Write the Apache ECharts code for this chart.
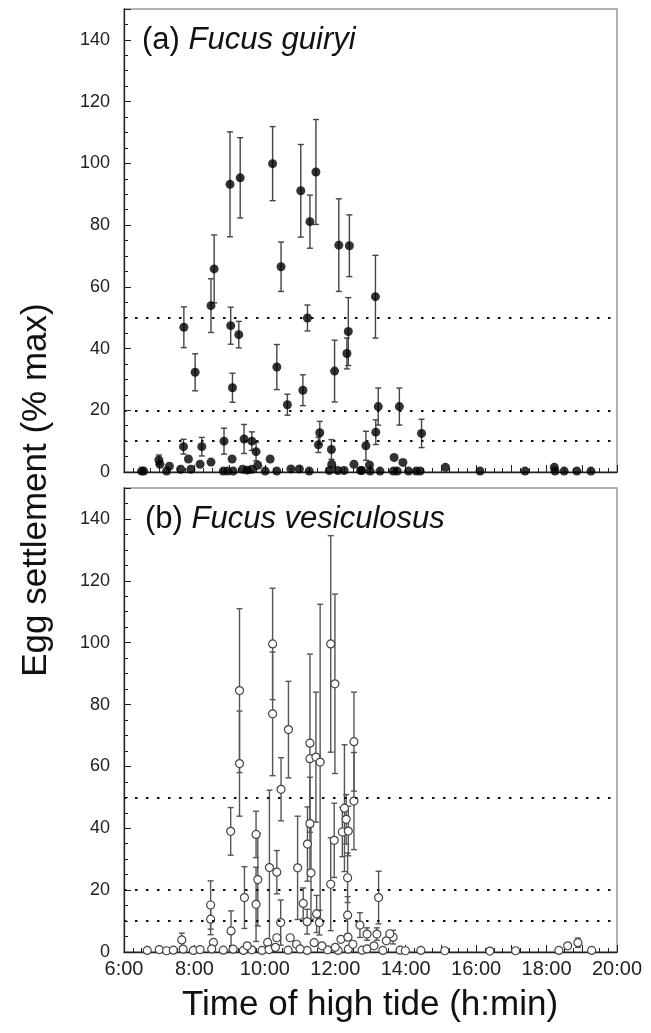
<!DOCTYPE html>
<html><head><meta charset="utf-8">
<script src="https://cdn.jsdelivr.net/npm/echarts@6/dist/echarts.min.js"></script>
<style>html,body{margin:0;padding:0;background:#fff}#c{width:651px;height:1033px}</style>
</head><body><div id="c"></div>
<script>
// Panel (a) Fucus guiryi — time of high tide (decimal hours), settlement (% max), error (±)
var aTime = [9.01,9.30,10.22,11.02,11.28,11.45,12.10,12.40,8.56,8.47,7.70,8.02,9.03,9.26,9.08,10.46,10.34,10.64,11.21,11.08,11.98,12.37,12.33,13.14,13.22,13.15,12.87,13.82,14.45,
  7.69,8.21,8.84,9.41,9.63,9.75,9.07,6.99,7.02,6.56,6.50,7.21,7.29,7.61,7.83,7.90,8.16,8.47,8.82,8.94,9.10,9.37,9.50,9.63,9.80,10.01,10.15,10.34,10.74,10.98,11.26,11.52,11.56,11.89,11.90,11.83,12.07,12.25,12.53,12.72,12.75,12.97,12.99,13.27,13.67,13.92,13.65,13.76,14.08,14.30,14.41,15.13,16.11,17.39,18.22,18.24,18.50,18.86,19.26];
var aValue = [93.2,95.3,99.9,91.1,81.1,97.2,73.5,73.3,65.8,53.9,46.9,32.3,47.4,44.5,27.3,66.5,34.0,21.8,49.9,26.5,32.7,45.5,38.4,56.8,21.2,12.9,8.5,21.2,12.5,
  8.2,8.2,10.0,10.7,10.0,6.6,4.2,3.9,2.5,0.3,0.3,0.3,1.9,0.9,4.2,0.9,2.5,3.2,0.3,0.3,0.3,0.9,0.6,0.9,2.2,0.3,4.2,0.3,1.0,1.0,0.3,8.8,12.7,7.3,2.5,0.5,0.5,0.5,2.5,0.5,0.5,2.3,0.3,0.3,4.7,3.1,0.3,0.3,0.3,0.3,0.3,1.5,0.3,0.3,1.5,0.3,0.3,0.3,0.3];
var aError = [17,13,12,15,8.6,17,15,10,11,8.7,6.6,6,6,4.3,4.7,8,7.3,3.4,4.2,5,10,11,5,13.4,6,4,4.7,6,4.6,
  2.4,3,4.2,4.7,3,3,0,1.6,0,0,0,0,0,0,0,0,0,0,0,0,0,0,0,0,0,0,0,0,0,0,0,2.5,3.7,3.2,0,0,0,0,0,0,0,0,0,0,0,0,0,0,0,0,0,0,0,0,0,0,0,0,0];

// Panel (b) Fucus vesiculosus
var bTime = [9.28,9.28,9.03,9.75,9.80,9.75,10.22,10.22,10.13,10.34,10.46,10.67,11.28,11.28,11.45,11.57,11.87,11.99,11.28,11.21,10.93,11.31,11.97,11.87,12.53,12.53,12.26,12.31,12.20,12.37,12.35,12.35,13.23,11.09,11.47,12.70,12.90,13.18,10.72,11.20,11.55,12.16,8.46,8.46,8.54,9.04,9.42,10.45,7.64,10.34,10.08,13.64,13.45,13.55,12.36,
  6.66,7.00,7.21,7.40,7.68,7.97,8.16,8.49,8.82,9.10,9.39,9.63,9.92,10.12,10.66,11.20,11.78,12.08,12.37,12.76,13.35,13.84,13.99,14.43,15.11,16.39,17.12,18.35,18.60,18.89,19.28,
  9.50,10.30,10.90,11.00,11.40,11.62,12.00,12.50,12.90,13.10];
var bValue = [84.5,60.9,39.0,38.0,23.4,15.4,99.6,77.0,27.3,25.8,52.6,71.9,67.5,62.5,63.0,61.4,99.6,86.7,41.5,34.9,27.2,25.6,36.1,21.9,68.0,48.8,46.5,42.9,38.8,39.1,24.0,11.9,17.6,15.7,12.3,8.7,5.8,5.8,4.6,9.8,9.5,4.1,15.2,10.6,3.1,6.8,17.6,9.5,3.9,4.6,3.1,4.8,3.6,5.9,4.8,
  0.5,0.8,0.4,0.6,0.9,0.5,0.8,1.0,0.6,0.9,0.5,0.7,0.5,0.8,0.6,0.5,0.7,0.5,0.9,0.6,0.5,0.6,0.4,0.5,0.4,0.3,0.4,0.5,2.0,3.0,0.5,
  2.0,1.5,2.5,1.0,3.0,2.0,1.5,2.5,1.0,2.0];
var bError = [26.5,17,7.7,7.5,15,12,18,20,25,7,10.2,15.6,28.8,0,21,51,35,29,15,12,16.7,15,12,15,16,15.7,20.5,8,8,8,8,6,8.5,5,6,4,2,2,0,4,4,0,7.8,5,0,6.5,10,7.3,2.2,0,0,2.2,0,0,0,
  0,0,0,0,0,0,0,0,0,0,0,0,0,0,0,0,0,0,0,0,0,0,0,0,0,0,0,0,0,1.5,0,
  0,0,0,0,0,0,0,0,0,0];

var refLines = [10, 20, 50];
var xLabelHours = [6, 8, 10, 12, 14, 16, 18, 20];
var yLabels = [0, 20, 40, 60, 80, 100, 120, 140];

function pts(t, v, e) { return t.map(function (x, i) { return [x, v[i], e[i]]; }); }

var chart = echarts.init(document.getElementById('c'), null, {renderer: 'canvas'});
var FONT = 'Liberation Sans, Arial, Helvetica, sans-serif';

function errRender(color) {
  return function (params, api) {
    var x = api.value(0), y = api.value(1), e = api.value(2);
    if (!e) return null;
    var hi = Math.min(150, y + e), lo = Math.max(0, y - e);
    var t = api.coord([x, hi]), b = api.coord([x, lo]);
    var hw = 3;
    var st = {stroke: color, lineWidth: 1.4};
    var ch = [{type: 'line', shape: {x1: t[0], y1: t[1], x2: b[0], y2: b[1]}, style: st},
              {type: 'line', shape: {x1: t[0] - hw, y1: t[1], x2: t[0] + hw, y2: t[1]}, style: st}];
    if (y - e > 0) ch.push({type: 'line', shape: {x1: b[0] - hw, y1: b[1], x2: b[0] + hw, y2: b[1]}, style: st});
    return {type: 'group', children: ch};
  };
}

function xAxis(gi, labels) {
  return {
    type: 'value', gridIndex: gi, min: 6, max: 20, interval: 1,
    axisLine: {show: true, onZero: false, lineStyle: {color: '#222', width: 1.3}},
    axisTick: {show: true, inside: true, length: 7, lineStyle: {color: '#222', width: 1}},
    minorTick: {show: true, splitNumber: 4, length: 4, lineStyle: {color: '#222', width: 1}},
    splitLine: {show: false},
    axisLabel: {show: labels, color: '#222', fontSize: 20, fontFamily: FONT, margin: 7,
      formatter: function (v) { return xLabelHours.indexOf(v) >= 0 ? v + ':00' : ''; }}
  };
}
function yAxis(gi) {
  return {
    type: 'value', gridIndex: gi, min: 0, max: 150, interval: 20,
    axisLine: {show: true, lineStyle: {color: '#222', width: 1.3}},
    axisTick: {show: true, inside: true, length: 7, lineStyle: {color: '#222', width: 1}},
    minorTick: {show: true, splitNumber: 4, length: 4, lineStyle: {color: '#222', width: 1}},
    splitLine: {show: false},
    axisLabel: {color: '#222', fontSize: 18, fontFamily: FONT, margin: 14, showMaxLabel: false,
      formatter: function (v) { return yLabels.indexOf(v) >= 0 ? String(v) : ''; }}
  };
}
var markLine = {
  silent: true, symbol: 'none', label: {show: false},
  lineStyle: {type: [2.5, 8.5], color: '#111', width: 2},
  data: refLines.map(function (v) { return {yAxis: v}; })
};
var rich = {
  n: {fontSize: 31, fontFamily: FONT, fontWeight: 'normal', color: '#111'},
  i: {fontSize: 31, fontFamily: FONT, fontWeight: 'normal', fontStyle: 'italic', color: '#111'}
};

chart.setOption({
  animation: false,
  backgroundColor: '#fff',
  textStyle: {fontFamily: FONT},
  grid: [
    {left: 124, right: 34, top: 9, height: 463, show: true, borderColor: '#999', borderWidth: 1.5, backgroundColor: 'transparent'},
    {left: 124, right: 34, top: 488, height: 464, show: true, borderColor: '#999', borderWidth: 1.5, backgroundColor: 'transparent'}
  ],
  xAxis: [xAxis(0, false), xAxis(1, true)],
  yAxis: [yAxis(0), yAxis(1)],
  title: [
    {left: 142, top: 25, padding: 0, text: '{n|(a) }{i|Fucus guiryi}', textStyle: {fontWeight: 'normal', rich: rich}},
    {left: 145, top: 504, padding: 0, text: '{n|(b) }{i|Fucus vesiculosus}', textStyle: {fontWeight: 'normal', rich: rich}}
  ],
  graphic: [
    {type: 'text', x: 36, y: 490, rotation: Math.PI / 2,
      style: {text: 'Egg settlement (% max)', fontSize: 35, fontFamily: FONT, fill: '#111', textAlign: 'center', textVerticalAlign: 'middle'}},
    {type: 'text', x: 370, y: 1005,
      style: {text: 'Time of high tide (h:min)', fontSize: 35, fontFamily: FONT, fill: '#111', textAlign: 'center', textVerticalAlign: 'middle'}}
  ],
  series: [
    {type: 'custom', xAxisIndex: 0, yAxisIndex: 0, renderItem: errRender('#444'), data: pts(aTime, aValue, aError), z: 2, encode: {x: 0, y: 1}},
    {type: 'scatter', xAxisIndex: 0, yAxisIndex: 0, symbol: 'circle', symbolSize: 9,
      itemStyle: {color: '#000', borderColor: '#000', borderWidth: 0}, data: pts(aTime, aValue, aError), z: 3, markLine: markLine},
    {type: 'custom', xAxisIndex: 1, yAxisIndex: 1, renderItem: errRender('#555'), data: pts(bTime, bValue, bError), z: 2, encode: {x: 0, y: 1}},
    {type: 'scatter', xAxisIndex: 1, yAxisIndex: 1, symbol: 'circle', symbolSize: 8,
      itemStyle: {color: '#fff', borderColor: '#444', borderWidth: 1.2, opacity: 1}, data: pts(bTime, bValue, bError), z: 3, markLine: markLine}
  ]
});
</script></body></html>
